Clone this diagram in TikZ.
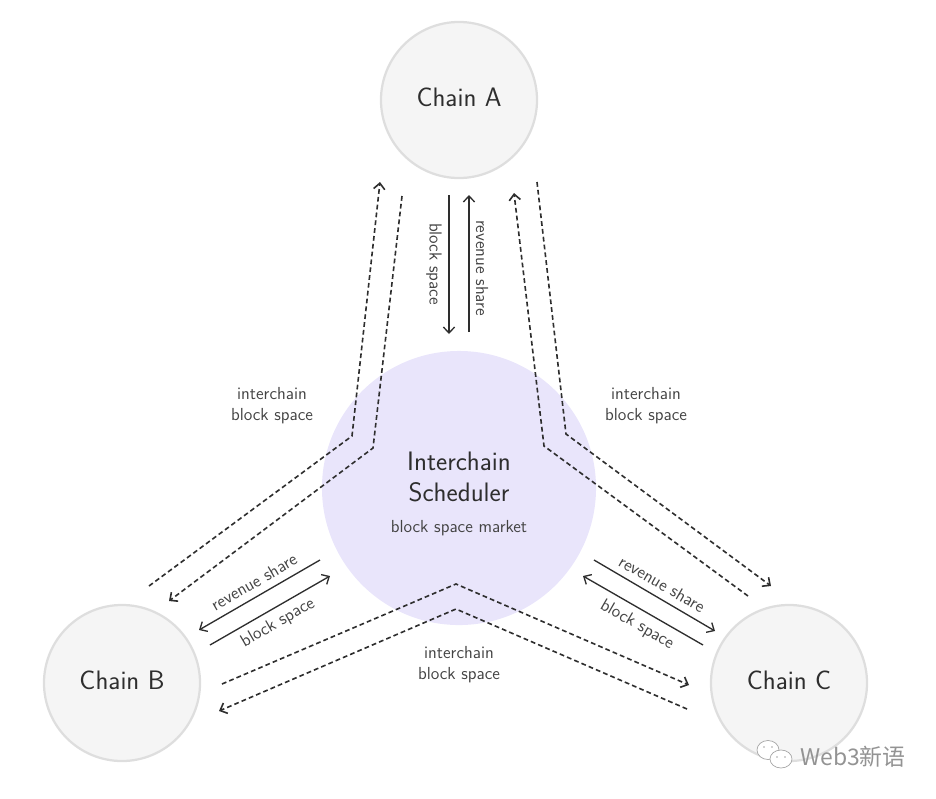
\documentclass[tikz,border=0pt]{standalone}
\usepackage{fontspec}
\newfontfamily\cjk{Noto Sans CJK SC}
\usepackage{xcolor}
\definecolor{chainfill}{HTML}{F5F5F5}
\definecolor{chainline}{HTML}{DEDEDE}
\definecolor{schedfill}{HTML}{E9E5FB}
\definecolor{ink}{HTML}{2E2E2E}
\usetikzlibrary{arrows.meta, calc}
\tikzset{
  chain/.style={circle,draw=chainline,fill=chainfill,line width=1.6pt,minimum size=3.9cm,
    inner sep=0pt,text depth=4.2pt,font=\sffamily\fontsize{19}{22}\selectfont,text=ink},
  sched/.style={circle,fill=schedfill,minimum size=6.85cm,inner sep=0pt},
  flow/.style={ink,line width=0.95pt,-{Straight Barb[length=1.5mm,width=2.8mm]}},
  share/.style={flow,line width=1.15pt,dash pattern=on 3.4pt off 2.2pt},
  tag/.style={font=\sffamily\fontsize{12.4}{15}\selectfont,text=ink!90,align=center},
}

\begin{document}
\begin{tikzpicture}[x=0.025cm,y=-0.025cm,font=\sffamily]
  % one unit = one pixel of the 936 x 798 frame, y runs downwards.
  \useasboundingbox (0,0) rectangle (936,798);
  \node[sched] (sched) at (459,488) {};
  \node[chain] (chainA) at (459,100) {Chain A};
  \node[chain] (chainB) at (122,683) {Chain B};
  \node[chain] (chainC) at (789,683) {Chain C};
  % Scheduler labels.
  \node[font=\sffamily\fontsize{19}{21.5}\selectfont,text=ink,align=center] (schedname) at (459,477) {Interchain\\Scheduler};
  \node[tag] (market) at (459,528) {block space market};
  % Free ends of the connectors.
  \foreach \n/\x/\y in {
    ab1/449/195, ab2/449/334, ar1/469/332, ar2/469/195,
    br1/320/560, br2/199/630, bb1/210/645, bb2/330/576,
    cr1/594/560, cr2/715/631, cb1/703/645, cb2/583/576,
    la1/149/586, la2/352/436, la3/380/182,
    lb1/402/196, lb2/373/448, lb3/169/601,
    ra1/537/182, ra2/566/434, ra3/771/586,
    rb1/748/596, rb2/544/446, rb3/514/193,
    da1/222/684, da2/456/584, da3/689/685,
    db1/687/709, db2/456/609, db3/219/711} {
    \coordinate (\n) at (\x,\y);
  }
  % Direct flows.
  \foreach \a/\b in {ab1/ab2, ar1/ar2, br1/br2, bb1/bb2, cr1/cr2, cb1/cb2} {
    \draw[flow] (\a) -- (\b);
  }
  % Interchain flows, bent around the scheduler.
  \foreach \a/\b/\c in {la1/la2/la3, lb1/lb2/lb3, ra1/ra2/ra3, rb1/rb2/rb3, da1/da2/da3, db1/db2/db3} {
    \draw[share] (\a) -- (\b) -- (\c);
  }
  % Flow labels.
  \node[tag,rotate=-90] (tagAb) at (434,264) {block space};
  \node[tag,rotate=-90] (tagAr) at (482,268) {revenue share};
  \node[tag,rotate=30]  (tagBr) at (254,582) {revenue share};
  \node[tag,rotate=30]  (tagBb) at (278,623) {block space};
  \node[tag,rotate=-30] (tagCr) at (662,584) {revenue share};
  \node[tag,rotate=-30] (tagCb) at (637,625) {block space};
  \node[tag] (tagL) at (272,406) {interchain\\block space};
  \node[tag] (tagR) at (646,406) {interchain\\block space};
  \node[tag] (tagD) at (459,665) {interchain\\block space};
  % Watermark.
  \fill[white,draw=gray!70,line width=0.5pt] (768,750) ellipse (11 and 9.5);
  \fill[white,draw=gray!70,line width=0.5pt] (781,759) ellipse (11 and 9);
  \foreach \x/\y in {764/747, 772/747, 777/757, 785/757} {
    \fill[gray!70] (\x,\y) circle (0.9);
  }
  \node[font=\cjk\fontsize{16.3}{18}\selectfont,text=gray!85,anchor=west,inner sep=0pt] (mark) at (800,757) {Web3新语};
\end{tikzpicture}
\end{document}
